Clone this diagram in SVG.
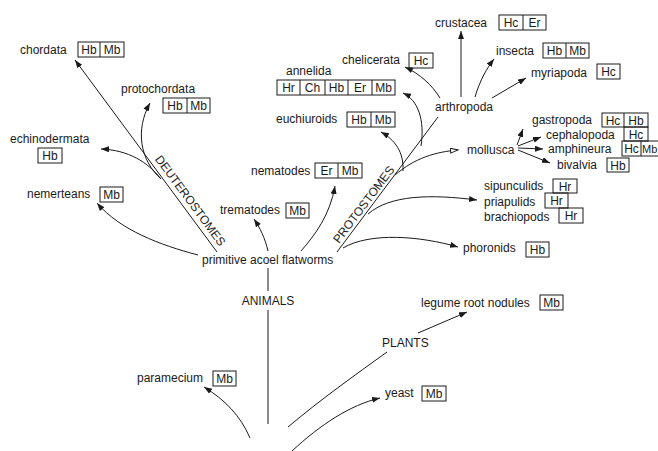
<svg xmlns="http://www.w3.org/2000/svg" width="658" height="451" viewBox="0 0 658 451">
<defs>
<style>
text{font-family:"Liberation Sans",Arial,sans-serif;font-size:12px;fill:#1a1a1a}
.b{fill:none;stroke:#1a1a1a;stroke-width:1}
.c{fill:none;stroke:#1a1a1a;stroke-width:1}
.bl{text-anchor:middle}
</style>
<marker id="ah" markerUnits="userSpaceOnUse" markerWidth="10" markerHeight="8" refX="8" refY="3" orient="auto">
<path d="M0,0 L8,3 L0,6 Z" fill="#1a1a1a"/>
</marker>
<marker id="oh" markerUnits="userSpaceOnUse" markerWidth="10" markerHeight="8" refX="8" refY="3" orient="auto">
<path d="M0.5,0.5 L8,3 L0.5,5.5 Z" fill="#fff" stroke="#1a1a1a" stroke-width="1"/>
</marker>
</defs>
<rect width="658" height="451" fill="#fff"/>

<g id="connectors">
<path class="c" d="M217 252 L75 60" marker-end="url(#ah)"/>
<path class="c" d="M161 179 C140 160 135 130 150 103" marker-end="url(#ah)"/>
<path class="c" d="M161 179 C148 162 128 150 101 149" marker-end="url(#ah)"/>
<path class="c" d="M198 255 C160 245 120 230 97 203" marker-end="url(#ah)"/>
<path class="c" d="M268 251 C265 238 260 228 254 219" marker-end="url(#ah)"/>
<path class="c" d="M301 251 C315 235 330 215 335 186" marker-end="url(#ah)"/>
<path class="c" d="M268 268 L268 291"/>
<path class="c" d="M268 310 L268 424"/>
<path class="c" d="M337 252 L438 117"/>
<path class="c" d="M343 248 C370 232 420 236 458 247" marker-end="url(#ah)"/>
<path class="c" d="M368 214 C390 195 430 194 477 200" marker-end="url(#ah)"/>
<path class="c" d="M395 175 C415 158 435 152 458 150" marker-end="url(#oh)"/>
<path class="c" d="M403 171 C404 152 395 140 381 132" marker-end="url(#ah)"/>
<path class="c" d="M421 146 C425 120 418 100 403 93" marker-end="url(#ah)"/>
<path class="c" d="M440 98 C432 85 420 74 405 67" marker-end="url(#ah)"/>
<path class="c" d="M461 97 L461 31" marker-end="url(#ah)"/>
<path class="c" d="M475 97 C480 80 487 68 494 59" marker-end="url(#ah)"/>
<path class="c" d="M492 98 L526 78" marker-end="url(#ah)"/>
<path class="c" d="M517 145 L523 129" marker-end="url(#ah)"/>
<path class="c" d="M518 146 L541 137" marker-end="url(#ah)"/>
<path class="c" d="M518 148 L543 149" marker-end="url(#ah)"/>
<path class="c" d="M518 150 L550 163" marker-end="url(#ah)"/>
<path class="c" d="M250 438 C240 415 225 400 204 387" marker-end="url(#ah)"/>
<path class="c" d="M288 427 C320 400 355 375 387 352"/>
<path class="c" d="M418 333 L467 312" marker-end="url(#ah)"/>
<path class="c" d="M292 451 C320 425 350 405 380 398" marker-end="url(#ah)"/>
</g>

<g id="deuterostomes-label"><text transform="translate(187,203) rotate(53.5)" class="bl">DEUTEROSTOMES</text></g>
<g id="protostomes-label"><text transform="translate(367,207) rotate(-53)" class="bl">PROTOSTOMES</text></g>
<g id="animals-label"><text x="268" y="305" class="bl">ANIMALS</text></g>
<g id="plants-label"><text x="382" y="347">PLANTS</text></g>

<g id="chordata"><text x="20" y="54">chordata</text>
<rect class="b" x="78" y="42" width="46" height="15"/><line class="b" x1="100" y1="42" x2="100" y2="57"/>
<text x="89" y="54" class="bl">Hb</text><text x="112" y="54" class="bl">Mb</text></g>

<g id="protochordata"><text x="121" y="93">protochordata</text>
<rect class="b" x="163" y="98" width="47" height="15"/><line class="b" x1="187" y1="98" x2="187" y2="113"/>
<text x="175" y="110" class="bl">Hb</text><text x="198.5" y="110" class="bl">Mb</text></g>

<g id="echinodermata"><text x="10" y="143">echinodermata</text>
<rect class="b" x="38" y="148" width="24" height="15"/>
<text x="50" y="160" class="bl">Hb</text></g>

<g id="nemerteans"><text x="27" y="198">nemerteans</text>
<rect class="b" x="100" y="187" width="23" height="15"/>
<text x="111.5" y="199" class="bl">Mb</text></g>

<g id="trematodes"><text x="220" y="214">trematodes</text>
<rect class="b" x="286" y="203" width="23" height="15"/>
<text x="297.5" y="215" class="bl">Mb</text></g>

<g id="nematodes"><text x="251" y="175">nematodes</text>
<rect class="b" x="315" y="163" width="47" height="15"/><line class="b" x1="338" y1="163" x2="338" y2="178"/>
<text x="326.5" y="175" class="bl">Er</text><text x="350" y="175" class="bl">Mb</text></g>

<g id="flatworms"><text x="202" y="264">primitive acoel flatworms</text></g>

<g id="euchiuroids"><text x="276" y="123">euchiuroids</text>
<rect class="b" x="347" y="112" width="48" height="15"/><line class="b" x1="371" y1="112" x2="371" y2="127"/>
<text x="359" y="124" class="bl">Hb</text><text x="383" y="124" class="bl">Mb</text></g>

<g id="annelida"><text x="286" y="75">annelida</text>
<rect class="b" x="277" y="80" width="118" height="15"/>
<line class="b" x1="300" y1="80" x2="300" y2="95"/><line class="b" x1="325" y1="80" x2="325" y2="95"/>
<line class="b" x1="348" y1="80" x2="348" y2="95"/><line class="b" x1="372" y1="80" x2="372" y2="95"/>
<text x="288.5" y="92" class="bl">Hr</text><text x="312.5" y="92" class="bl">Ch</text><text x="336.5" y="92" class="bl">Hb</text><text x="360" y="92" class="bl">Er</text><text x="383.5" y="92" class="bl">Mb</text></g>

<g id="chelicerata"><text x="342" y="64">chelicerata</text>
<rect class="b" x="409" y="53" width="24" height="15"/>
<text x="421" y="65" class="bl">Hc</text></g>

<g id="arthropoda"><text x="435" y="111">arthropoda</text></g>

<g id="crustacea"><text x="435" y="27">crustacea</text>
<rect class="b" x="499" y="15" width="47" height="15"/><line class="b" x1="523" y1="15" x2="523" y2="30"/>
<text x="511" y="27" class="bl">Hc</text><text x="534.5" y="27" class="bl">Er</text></g>

<g id="insecta"><text x="496" y="55">insecta</text>
<rect class="b" x="543" y="43" width="46" height="15"/><line class="b" x1="566" y1="43" x2="566" y2="58"/>
<text x="554.5" y="55" class="bl">Hb</text><text x="577.5" y="55" class="bl">Mb</text></g>

<g id="myriapoda"><text x="531" y="77">myriapoda</text>
<rect class="b" x="597" y="64" width="23" height="15"/>
<text x="608.5" y="76" class="bl">Hc</text></g>

<g id="mollusca"><text x="467" y="154">mollusca</text></g>

<g id="gastropoda"><text x="532" y="124">gastropoda</text>
<rect class="b" x="602" y="113" width="46" height="14"/><line class="b" x1="624" y1="113" x2="624" y2="127"/>
<text x="613" y="124.5" class="bl">Hc</text><text x="636" y="124.5" class="bl">Hb</text></g>

<g id="cephalopoda"><text x="546" y="139">cephalopoda</text>
<rect class="b" x="624" y="127" width="24" height="14"/>
<text x="636" y="138.5" class="bl">Hc</text></g>

<g id="amphineura"><text x="548" y="153">amphineura</text>
<rect class="b" x="622" y="141" width="48" height="15"/><line class="b" x1="641" y1="141" x2="641" y2="156"/>
<text x="631.5" y="153" class="bl">Hc</text><text x="642" y="153" style="font-size:11px">Mb</text></g>

<g id="bivalvia"><text x="557" y="169">bivalvia</text>
<rect class="b" x="607" y="158" width="22" height="14"/>
<text x="618" y="169.5" class="bl">Hb</text></g>

<g id="sipunculids"><text x="484" y="190">sipunculids</text>
<rect class="b" x="553" y="179" width="24" height="14"/>
<text x="565" y="190.5" class="bl">Hr</text></g>

<g id="priapulids"><text x="484" y="206">priapulids</text>
<rect class="b" x="545" y="193" width="23" height="15"/>
<text x="556.5" y="205" class="bl">Hr</text></g>

<g id="brachiopods"><text x="484" y="221">brachiopods</text>
<rect class="b" x="559" y="208" width="24" height="15"/>
<text x="571" y="220" class="bl">Hr</text></g>

<g id="phoronids"><text x="463" y="252">phoronids</text>
<rect class="b" x="526" y="242" width="23" height="15"/>
<text x="537.5" y="254" class="bl">Hb</text></g>

<g id="legume"><text x="421" y="307">legume root nodules</text>
<rect class="b" x="540" y="295" width="23" height="15"/>
<text x="551.5" y="307" class="bl">Mb</text></g>

<g id="paramecium"><text x="137" y="382">paramecium</text>
<rect class="b" x="213" y="371" width="23" height="15"/>
<text x="224.5" y="383" class="bl">Mb</text></g>

<g id="yeast"><text x="385" y="397">yeast</text>
<rect class="b" x="422" y="386" width="24" height="15"/>
<text x="434" y="398" class="bl">Mb</text></g>
</svg>
